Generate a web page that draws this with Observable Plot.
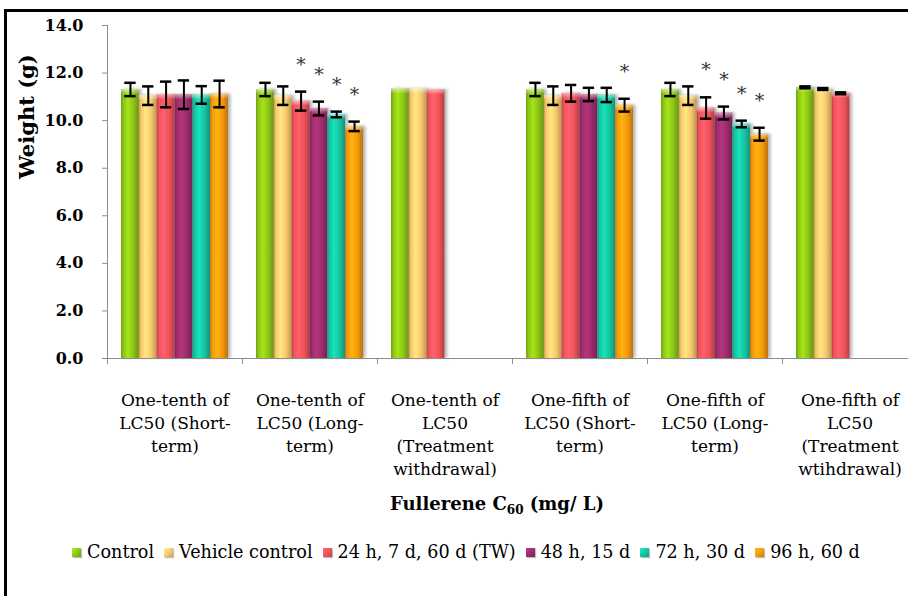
<!DOCTYPE html>
<html>
<head>
<meta charset="utf-8">
<script src="https://cdn.jsdelivr.net/npm/d3@7"></script>
<script src="https://cdn.jsdelivr.net/npm/@observablehq/plot@0.6"></script>
<style>
  html, body { margin: 0; padding: 0; background: #fff; overflow: hidden; }
  body { width: 908px; height: 596px; position: relative; font-family: "DejaVu Serif", serif; color: #000; }
  #chart { position: absolute; left: 0; top: 0; }
  #chart svg { max-width: none !important; display: block; overflow: visible; }
  #frame { position: absolute; left: 4px; top: 9px; width: 1000px; height: 1000px; border: 3px solid #000; pointer-events: none; }
  #xtitle { position: absolute; top: 494px; left: 497px; transform: translateX(-50%); white-space: nowrap;
            font-weight: bold; font-size: 18px; line-height: 20px; }
  #xtitle sub { font-size: 12px; vertical-align: -4px; line-height: 0; }
  #legend { position: absolute; top: 542px; left: 72px; display: flex; align-items: center; white-space: nowrap;
            font-size: 17.6px; line-height: 20px; }
  #legend .item { display: flex; align-items: center; margin-right: 10px; }
  #legend .swatch { width: 9px; height: 9px; margin-right: 6px; box-shadow: 1px 1px 1px rgba(0,0,0,0.25); }
</style>
</head>
<body>
<div id="chart"></div>
<div id="xtitle">Fullerene C<sub>60</sub> (mg/ L)</div>
<div id="legend"></div>
<div id="frame"></div>
<script>
// Exposure groups (x categories) and their wrapped axis labels
const groups = [
  "One-tenth of LC50 (Short-term)",
  "One-tenth of LC50 (Long-term)",
  "One-tenth of LC50 (Treatment withdrawal)",
  "One-fifth of LC50 (Short-term)",
  "One-fifth of LC50 (Long-term)",
  "One-fifth of LC50 (Treatment wtihdrawal)"
];
const groupLabels = [
  "One-tenth of\nLC50 (Short-\nterm)",
  "One-tenth of\nLC50 (Long-\nterm)",
  "One-tenth of\nLC50\n(Treatment\nwithdrawal)",
  "One-fifth of\nLC50 (Short-\nterm)",
  "One-fifth of\nLC50 (Long-\nterm)",
  "One-fifth of\nLC50\n(Treatment\nwtihdrawal)"
];

// Sampling points (bar series within each group)
const series = ["Control", "Vehicle control", "24 h, 7 d, 60 d (TW)", "48 h, 15 d", "72 h, 30 d", "96 h, 60 d"];
const seriesColors = ["#8cc316", "#f8c66c", "#f0525a", "#9a2c6a", "#16c2a0", "#f5980c"];

// Mean body weight (g) per group; null where the sampling point does not exist
const controlWeight = [11.31, 11.31, 11.33, 11.31, 11.31, 11.40];
const vehicleWeight = [11.05, 11.05, 11.33, 11.05, 11.05, 11.33];
const h24Weight     = [11.10, 10.82, 11.30, 11.15, 10.53, 11.15];
const h48Weight     = [11.09, 10.51, null, 11.10, 10.32, null];
const h72Weight     = [11.08, 10.26, null, 11.08, 9.86, null];
const h96Weight     = [11.12, 9.76, null, 10.65, 9.43, null];

// Standard error of each mean
const controlErr = [0.28, 0.28, 0, 0.28, 0.28, 0.04];
const vehicleErr = [0.39, 0.39, 0, 0.39, 0.39, 0.04];
const h24Err     = [0.54, 0.40, 0, 0.35, 0.45, 0.04];
const h48Err     = [0.60, 0.29, null, 0.28, 0.27, null];
const h72Err     = [0.37, 0.12, null, 0.30, 0.14, null];
const h96Err     = [0.56, 0.20, null, 0.27, 0.27, null];

// Significant difference from control (asterisk)
const h24Sig = [false, true, false, false, true, false];
const h48Sig = [false, true, false, false, true, false];
const h72Sig = [false, true, false, false, true, false];
const h96Sig = [false, true, false, true, true, false];

const yTicks = [0, 2, 4, 6, 8, 10, 12, 14];

const means = [controlWeight, vehicleWeight, h24Weight, h48Weight, h72Weight, h96Weight];
const errs = [controlErr, vehicleErr, h24Err, h48Err, h72Err, h96Err];
const sigs = [null, null, h24Sig, h48Sig, h72Sig, h96Sig];

// Grouped layout on a linear x scale: group g spans [g, g + 1]
const groupPad = 0.104, slot = 0.132, capHalf = 0.042, shineDepth = 0.22;

const rows = [];
groups.forEach((group, g) => {
  series.forEach((name, s) => {
    const v = means[s][g];
    if (v == null) return;
    const x1 = g + groupPad + s * slot;
    rows.push({group, name, g, s, v, e: errs[s][g], sig: sigs[s] ? sigs[s][g] : false,
               x1, x2: x1 + slot, xc: x1 + slot / 2});
  });
});
const groupRows = groups.map((group, g) => ({group, g, label: groupLabels[g], xc: g + 0.5}));
const withErr = rows.filter(d => d.e > 0);
const axisGray = "#8c8c8c";

const chart = Plot.plot({
  width: 917,
  height: 484,
  marginLeft: 107,
  marginRight: 0,
  marginTop: 25,
  marginBottom: 126,
  style: {fontFamily: '"DejaVu Serif", serif', fontSize: "17px", color: "#000", background: "transparent"},
  x: {type: "linear", domain: [0, groups.length]},
  y: {domain: [0, d3.max(yTicks)]},
  marks: [
    // bars, one mark per series so each gets its own cylinder gradient
    ...series.map((name, s) => Plot.rectY(rows.filter(d => d.s === s), {
      x1: "x1", x2: "x2", y1: 0, y2: "v", fill: `url(#bar-grad-${s})`
    })),
    // light sheen at the top of each bar
    Plot.rectY(rows, {x1: "x1", x2: "x2", y1: d => d.v - shineDepth, y2: "v", fill: "url(#bar-shine)"}),
    // axes
    Plot.ruleX([0], {y1: 0, y2: d3.max(yTicks), stroke: axisGray}),
    Plot.ruleY([0], {stroke: axisGray}),
    Plot.axisY({ticks: yTicks, tickFormat: d3.format(".1f"), tickSize: 5, tickPadding: 19,
                fontSize: 16, fontWeight: "bold", stroke: axisGray, label: null}),
    Plot.axisX({ticks: d3.range(groups.length + 1), tickSize: 6, tickFormat: () => "",
                stroke: axisGray, label: null}),
    // error bars
    Plot.ruleX(withErr, {x: "xc", y1: d => d.v - d.e, y2: d => d.v + d.e, stroke: "#000", strokeWidth: 2}),
    Plot.ruleY(withErr, {y: d => d.v + d.e, x1: d => d.xc - capHalf, x2: d => d.xc + capHalf, stroke: "#000", strokeWidth: 2.5}),
    Plot.ruleY(withErr, {y: d => d.v - d.e, x1: d => d.xc - capHalf, x2: d => d.xc + capHalf, stroke: "#000", strokeWidth: 2.5}),
    // significance markers
    Plot.text(rows.filter(d => d.sig), {x: "xc", y: d => d.v + d.e, text: () => "*", dy: -27,
                                        fontSize: 19, fill: "#333"}),
    // group labels
    Plot.text(groupRows, {x: "xc", y: 0, text: "label", lineAnchor: "top", dy: 31, lineHeight: 1.35, fontSize: 17}),
    // y-axis title
    Plot.text(["Weight (g)"], {frameAnchor: "left", rotate: -90, dx: -80, dy: -13,
                               fontSize: 21, fontWeight: "bold"})
  ]
});

// gradients and shadow used by the bars
const svg = d3.select(chart);
const defs = svg.insert("defs", ":first-child");
seriesColors.forEach((c, s) => {
  const base = d3.color(c);
  const grad = defs.append("linearGradient").attr("id", `bar-grad-${s}`)
    .attr("x1", 0).attr("x2", 1).attr("y1", 0).attr("y2", 0);
  [[0, base.darker(0.7)], [0.12, base], [0.38, base.brighter(0.45)], [0.7, base], [1, base.darker(0.8)]]
    .forEach(([o, col]) => grad.append("stop").attr("offset", o).attr("stop-color", col.formatHex()));
});
const shine = defs.append("linearGradient").attr("id", "bar-shine")
  .attr("x1", 0).attr("x2", 0).attr("y1", 0).attr("y2", 1);
shine.append("stop").attr("offset", 0).attr("stop-color", "#fff").attr("stop-opacity", 0.55);
shine.append("stop").attr("offset", 1).attr("stop-color", "#fff").attr("stop-opacity", 0);
const shadow = defs.append("filter").attr("id", "bar-shadow")
  .attr("x", "-20%").attr("y", "-5%").attr("width", "150%").attr("height", "115%");
shadow.append("feDropShadow").attr("dx", 2.5).attr("dy", 0).attr("stdDeviation", 1.5)
  .attr("flood-color", "#000").attr("flood-opacity", 0.3);
svg.selectAll('g[aria-label="rect"]').filter((d, i) => i < series.length).attr("filter", "url(#bar-shadow)");

document.getElementById("chart").appendChild(chart);

// legend
const legend = d3.select("#legend");
series.forEach((name, s) => {
  const base = d3.color(seriesColors[s]);
  const item = legend.append("div").attr("class", "item");
  item.append("div").attr("class", "swatch")
    .style("background", `linear-gradient(135deg, ${base.brighter(0.6).formatHex()}, ${base.formatHex()} 55%, ${base.darker(0.6).formatHex()})`);
  item.append("span").text(name);
});
</script>
</body>
</html>
